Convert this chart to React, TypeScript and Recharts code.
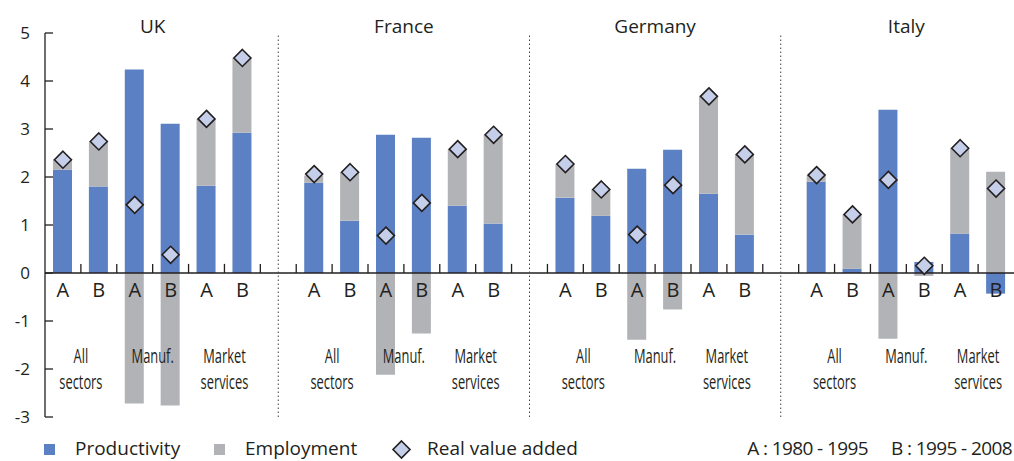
import React from 'react';
import {
  ComposedChart,
  Bar,
  Scatter,
  XAxis,
  YAxis,
  ReferenceLine,
  ReferenceDot,
} from 'recharts';

// Growth decomposition, % per year. A: 1980-1995, B: 1995-2008
const countries = ['UK', 'France', 'Germany', 'Italy'];
const periods = ['A', 'B', 'A', 'B', 'A', 'B'];
const sectorLabels = [['All', 'sectors'], ['Manuf.'], ['Market', 'services']];
const yTicks = [-3, -2, -1, 0, 1, 2, 3, 4, 5];

// one row per country: all sectors A/B, manuf. A/B, market services A/B
const productivity = [
  [2.15, 1.8, 4.24, 3.11, 1.82, 2.92],
  [1.88, 1.09, 2.88, 2.82, 1.4, 1.03],
  [1.57, 1.19, 2.17, 2.57, 1.65, 0.8],
  [1.9, 0.09, 3.4, 0.23, 0.82, -0.43],
];
const employment = [
  [0.21, 0.94, -2.72, -2.76, 1.39, 1.56],
  [0.15, 1.01, -2.12, -1.26, 1.18, 1.85],
  [0.7, 0.55, -1.39, -0.76, 2.03, 1.67],
  [0.14, 1.13, -1.37, -0.06, 1.78, 2.11],
];
const realValueAdded = [
  [2.36, 2.74, 1.42, 0.38, 3.21, 4.48],
  [2.06, 2.1, 0.78, 1.46, 2.58, 2.88],
  [2.27, 1.74, 0.8, 1.83, 3.68, 2.47],
  [2.04, 1.22, 1.94, 0.15, 2.6, 1.76],
];

const BLUE = '#5b80c3';
const GREY = '#b2b3b7';
const DIAMOND = '#c5cfea';
const INK = '#231f20';
const FONT = "'Open Sans', 'Noto Sans', sans-serif";

const SLOTS = 7; // 6 bars + 1 empty slot between countries
const TOTAL = countries.length * SLOTS - 1;

const rows = countries.flatMap((country, ci) =>
  periods.map((period, j) => ({
    x: ci * SLOTS + j + 0.5,
    country,
    period,
    productivity: productivity[ci][j],
    employment: employment[ci][j],
    rva: realValueAdded[ci][j],
  }))
);

const boundaries = Array.from({ length: TOTAL - 1 }, (_, i) => i + 1);

const diamondPath = (cx: number, cy: number, h: number) =>
  `M${cx},${cy - h}L${cx + h},${cy}L${cx},${cy + h}L${cx - h},${cy}Z`;

const Diamond = (props: any) => {
  const { cx, cy } = props;
  if (cx == null || cy == null) return <g />;
  return <path d={diamondPath(cx, cy, 8.5)} fill={DIAMOND} stroke={INK} strokeWidth={1.6} />;
};

const centerOf = (viewBox: any) => ({
  cx: viewBox.x + (viewBox.width || 0) / 2,
  cy: viewBox.y + (viewBox.height || 0) / 2,
});

const periodLabel = (text: string) => (props: any) => {
  const { cx, cy } = centerOf(props.viewBox);
  return (
    <text x={cx} y={cy + 24} textAnchor="middle" fontSize={20} fill={INK} fontFamily={FONT}>
      {text}
    </text>
  );
};

const sectorLabel = (lines: string[]) => (props: any) => {
  const { cx, cy } = centerOf(props.viewBox);
  return (
    <g transform={`translate(${cx},${cy}) scale(0.66,1)`}>
      {lines.map((line, i) => (
        <text key={line} x={0} y={90 + i * 26} textAnchor="middle" fontSize={19.5} fill={INK} fontFamily={FONT}>
          {line}
        </text>
      ))}
    </g>
  );
};

const titleLabel = (text: string) => (props: any) => {
  const { cx, cy } = centerOf(props.viewBox);
  return (
    <text x={cx} y={cy} textAnchor="middle" fontSize={19} fill={INK} fontFamily={FONT}>
      {text}
    </text>
  );
};

function LegendRow() {
  return (
    <svg width={1014} height={461} style={{ position: 'absolute', left: 0, top: 0, pointerEvents: 'none' }}>
      <g fontFamily={FONT} fontSize={19} fill={INK}>
        <rect x={44} y={444} width={11} height={11} fill={BLUE} />
        <text x={75} y={455}>Productivity</text>
        <rect x={214} y={444} width={11} height={11} fill={GREY} />
        <text x={245} y={455}>Employment</text>
        <path d={diamondPath(401.5, 449.5, 8.5)} fill={DIAMOND} stroke={INK} strokeWidth={1.6} />
        <text x={427} y={455}>Real value added</text>
        <text x={868} y={455} textAnchor="end" letterSpacing={-0.6}>A : 1980 - 1995</text>
        <text x={1012} y={455} textAnchor="end" letterSpacing={-0.6}>B : 1995 - 2008</text>
      </g>
    </svg>
  );
}

export default function App() {
  return (
    <div style={{ position: 'absolute', left: 0, top: 0, width: 1014, height: 461, background: '#fff', fontFamily: FONT }}>
      <ComposedChart
        width={1014}
        height={440}
        data={rows}
        stackOffset="sign"
        margin={{ top: 33, right: 0, bottom: 23, left: 0 }}
      >
        <XAxis type="number" dataKey="x" domain={[0, TOTAL]} hide />
        <YAxis
          type="number"
          domain={[-3, 5]}
          ticks={yTicks}
          interval={0}
          width={45}
          tickSize={-8}
          tickMargin={23}
          axisLine={{ stroke: INK, strokeWidth: 1.3 }}
          tickLine={{ stroke: INK, strokeWidth: 1.3 }}
          tick={{ fill: INK, fontSize: 17, fontFamily: FONT }}
        />
        <Bar dataKey="productivity" stackId="s" fill={BLUE} barSize={19} isAnimationActive={false} />
        <Bar dataKey="employment" stackId="s" fill={GREY} barSize={19} isAnimationActive={false} />
        <ReferenceLine y={0} stroke={INK} strokeWidth={1.6} />
        {boundaries.map((b) => (
          <ReferenceLine
            key={`t${b}`}
            segment={[{ x: b, y: 0 }, { x: b, y: 0.19 }]}
            stroke={INK}
            strokeWidth={1.3}
          />
        ))}
        {countries.slice(1).map((c, i) => (
          <ReferenceLine
            key={`sep${c}`}
            x={(i + 1) * SLOTS - 0.5}
            stroke="#444"
            strokeWidth={1}
            strokeDasharray="1.5 2.5"
          />
        ))}
        {rows.map((r) => (
          <ReferenceDot
            key={`p${r.x}`}
            x={r.x}
            y={0}
            r={0}
            fill="none"
            stroke="none"
            ifOverflow="visible"
            label={{ content: periodLabel(r.period) }}
          />
        ))}
        {countries.flatMap((c, ci) =>
          sectorLabels.map((lines, si) => (
            <ReferenceDot
              key={`s${c}${si}`}
              x={ci * SLOTS + 1 + si * 2}
              y={0}
              r={0}
              fill="none"
              stroke="none"
              ifOverflow="visible"
              label={{ content: sectorLabel(lines) }}
            />
          ))
        )}
        {countries.map((c, ci) => (
          <ReferenceDot
            key={`c${c}`}
            x={ci * SLOTS + 3}
            y={5}
            r={0}
            fill="none"
            stroke="none"
            ifOverflow="visible"
            label={{ content: titleLabel(c) }}
          />
        ))}
        <Scatter dataKey="rva" shape={Diamond} isAnimationActive={false} />
      </ComposedChart>
      <LegendRow />
    </div>
  );
}
